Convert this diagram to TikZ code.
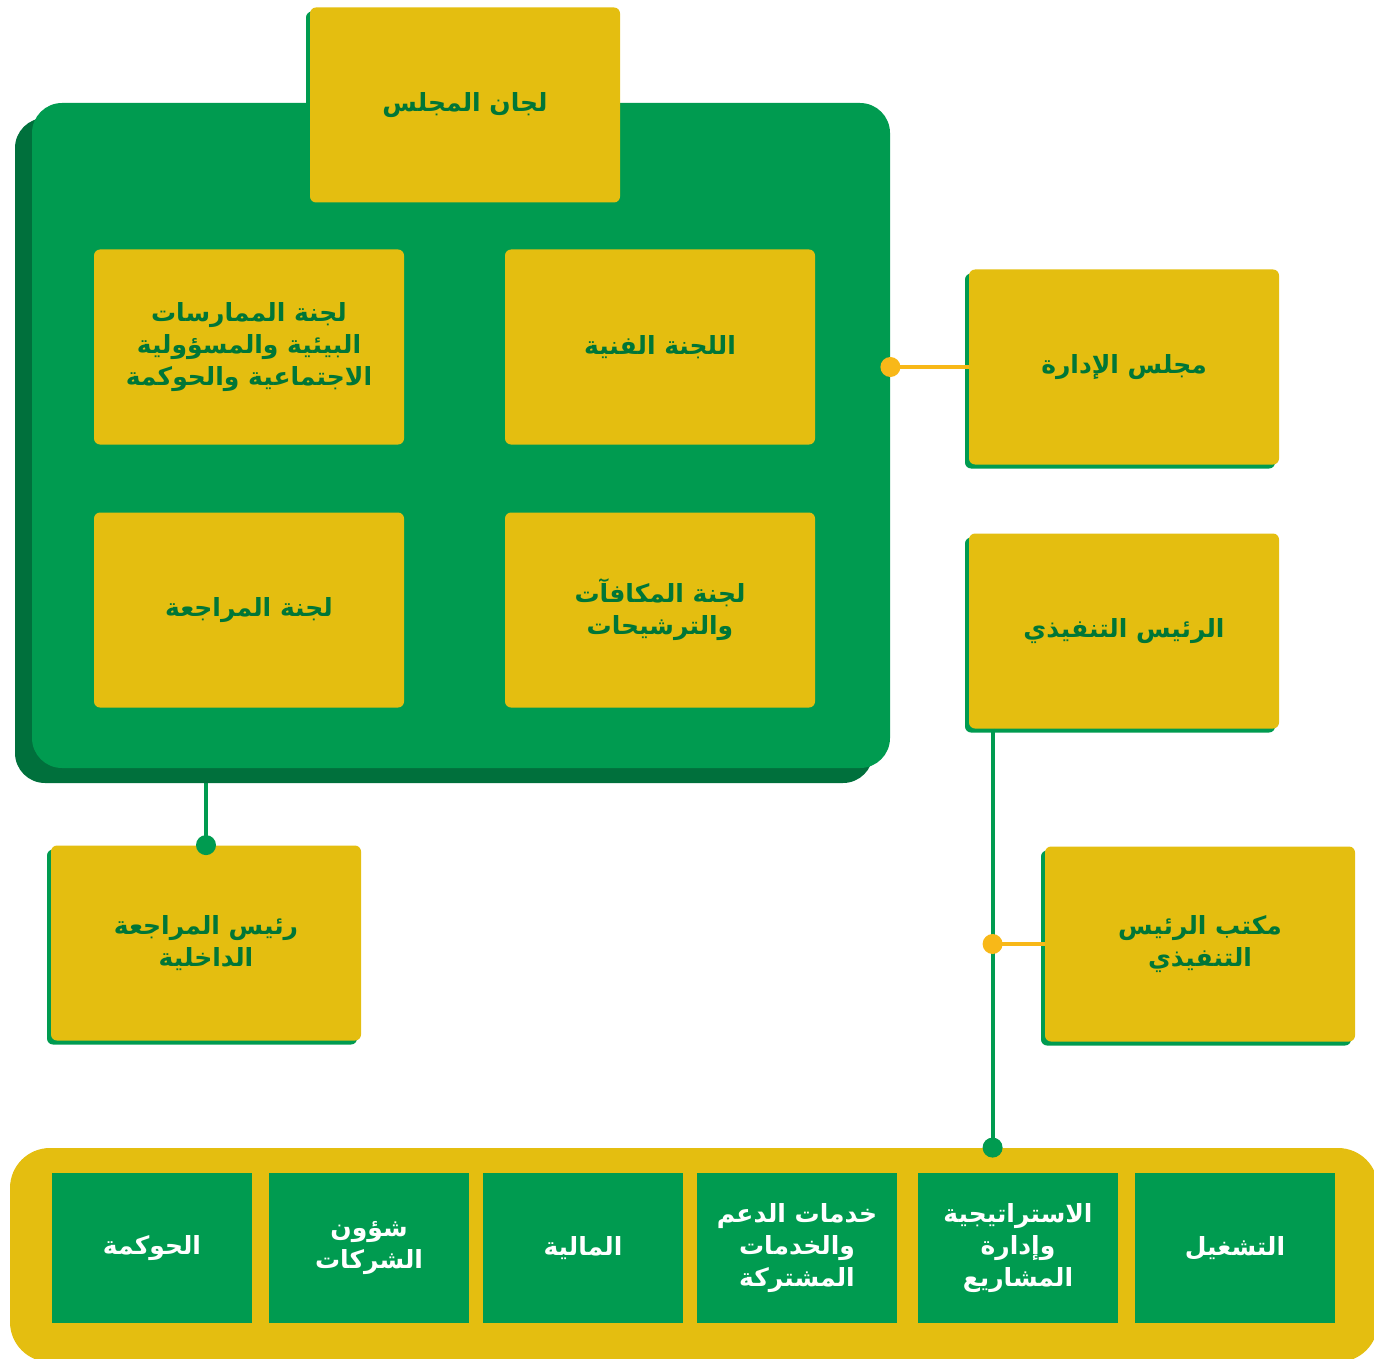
\documentclass[tikz,border=0pt]{standalone}
\usepackage{fontspec}
\newfontfamily\arabicfont[Script=Arabic]{DejaVu Sans}
\TeXXeTstate=1
\usepackage{tikz}
\usetikzlibrary{shadows}
\usetikzlibrary{backgrounds}
\definecolor{panelgreen}{RGB}{0,155,80}
\definecolor{darkgreen}{RGB}{0,112,60}
\definecolor{cardyellow}{RGB}{228,190,16}
\definecolor{textgreen}{RGB}{0,118,55}
\definecolor{dotyellow}{RGB}{248,184,24}
\newcommand{\ar}[1]{\beginR #1\endR}

\begin{document}
\begin{tikzpicture}[x=0.5pt,y=-0.5pt,
        card/.style={fill=cardyellow, rounded corners=3pt, minimum width=155pt, minimum height=97.5pt,
            inner sep=0pt, align=center, text=textgreen,
            font=\arabicfont\bfseries\fontsize{12.5}{16}\selectfont,
            drop shadow={shadow xshift=-2pt, shadow yshift=-2pt, fill=panelgreen, opacity=1}},
        unit/.style={fill=panelgreen, minimum width=100pt, minimum height=75pt, inner sep=0pt,
            align=center, text=white, font=\arabicfont\bfseries\fontsize{12.5}{16}\selectfont},
        gline/.style={panelgreen, line width=2pt},
        yline/.style={dotyellow, line width=2pt},
        gdot/.style={circle, fill=panelgreen, inner sep=0pt, minimum size=10pt},
        ydot/.style={circle, fill=dotyellow, inner sep=0pt, minimum size=10pt}]
        \useasboundingbox (0,0) rectangle (1374,1358);
        \node[fill=panelgreen, rounded corners=15pt, minimum width=429pt, minimum height=332.5pt,
            drop shadow={shadow xshift=-8.5pt, shadow yshift=-7.5pt, fill=darkgreen, opacity=1}] (panel) at (461,435.5) {};
        \node[card] (council) at (465,105) {\ar{لجان المجلس}};
        \node[card] (esg) at (249,347) {\ar{لجنة الممارسات}\\\ar{البيئية والمسؤولية}\\\ar{الاجتماعية والحوكمة}};
        \node[card] (tech) at (660,347) {\ar{اللجنة الفنية}};
        \node[card] (auditc) at (249,610) {\ar{لجنة المراجعة}};
        \node[card] (remun) at (660,610) {\ar{لجنة المكافآت}\\\ar{والترشيحات}};
        \node[card] (board) at (1124,367) {\ar{مجلس الإدارة}};
        \node[card] (ceo) at (1124,631) {\ar{الرئيس التنفيذي}};
        \node[card] (audit) at (206,943) {\ar{رئيس المراجعة}\\\ar{الداخلية}};
        \node[card] (office) at (1200,944) {\ar{مكتب الرئيس}\\\ar{التنفيذي}};
        \node[fill=cardyellow, rounded corners=20pt, minimum width=684pt, minimum height=107pt] (band) at (694,1255) {};
        \node[unit] (gov) at (152,1248) {\ar{الحوكمة}};
        \node[unit] (corp) at (369,1248) {\ar{شؤون}\\\ar{الشركات}};
        \node[unit] (fin) at (583,1248) {\ar{المالية}};
        \node[unit] (support) at (797,1248) {\ar{خدمات الدعم}\\\ar{والخدمات}\\\ar{المشتركة}};
        \node[unit] (strat) at (1018,1248) {\ar{الاستراتيجية}\\\ar{وإدارة}\\\ar{المشاريع}};
        \node[unit] (ops) at (1235,1248) {\ar{التشغيل}};
        \begin{scope}[on background layer]
            \draw[gline] (audit.north) -- (audit.north |- panel.south);
        \end{scope}
        \node[gdot] (auditdot) at (audit.north) {};
        \draw[yline] (panel.east |- board.west) -- (board.west);
        \node[ydot] (boarddot) at (panel.east |- board.west) {};
        \coordinate (trunk) at ([xshift=12pt]ceo.south west);
        \draw[gline] (trunk) -- (trunk |- band.north);
        \draw[yline] (trunk |- office.west) -- (office.west);
        \node[ydot] (officedot) at (trunk |- office.west) {};
        \node[gdot] (banddot) at (trunk |- band.north) {};
\end{tikzpicture}
\end{document}
